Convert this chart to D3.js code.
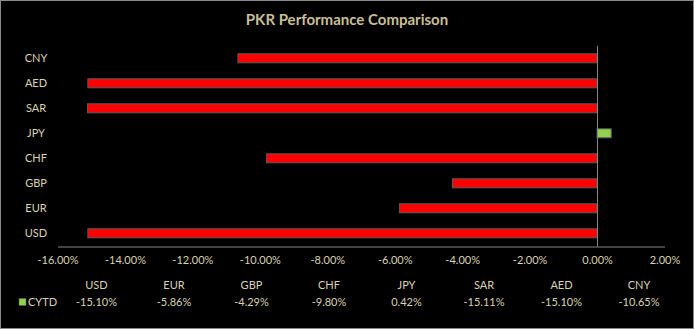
<!DOCTYPE html>
<html>
<head>
<meta charset="utf-8">
<script src="https://cdn.jsdelivr.net/npm/d3@7"></script>
<style>
  html, body { margin: 0; padding: 0; background: #000; }
  svg { display: block; }
</style>
</head>
<body>
<svg id="chart" width="694" height="329"></svg>
<script>
const title = "PKR Performance Comparison";
const categories = ["USD", "EUR", "GBP", "CHF", "JPY", "SAR", "AED", "CNY"];
const values = [-15.10, -5.86, -4.29, -9.80, 0.42, -15.11, -15.10, -10.65];
const valueLabels = ["-15.10%", "-5.86%", "-4.29%", "-9.80%", "0.42%", "-15.11%", "-15.10%", "-10.65%"];
const seriesName = "CYTD";
const tickValues = [-16, -14, -12, -10, -8, -6, -4, -2, 0, 2];

const W = 694, H = 329;
const font = "Lato, 'DejaVu Sans', sans-serif";
const labelColor = "#d8d2b4";
const titleColor = "#c8bf98";
const lineColor = "#868686";

const svg = d3.select("#chart");
svg.append("rect").attr("x", 0.5).attr("y", 0.5).attr("width", W - 1).attr("height", H - 1)
  .attr("fill", "#000").attr("stroke", "#8a8a8a").attr("stroke-width", 1);

svg.append("text").attr("x", 347).attr("y", 25).attr("text-anchor", "middle")
  .attr("font-family", font).attr("font-weight", "bold").attr("font-size", 15)
  .attr("fill", titleColor).text(title);

const x = d3.scaleLinear().domain([-16, 2]).range([57.5, 664.5]);
const y = d3.scaleBand().domain(categories.slice().reverse()).range([45.8, 245.8])
  .paddingInner(0.6).paddingOuter(0.3);

const data = categories.map((c, i) => ({ c, v: values[i] }));

// bars
svg.append("g").selectAll("rect").data(data).join("rect")
  .attr("x", d => Math.min(x(0), x(d.v)))
  .attr("y", d => y(d.c) + 0.5)
  .attr("width", d => Math.abs(x(d.v) - x(0)))
  .attr("height", y.bandwidth() - 1)
  .attr("fill", d => d.v < 0 ? "#ff0000" : "#92d050")
  .attr("stroke", "#5a5a5a").attr("stroke-width", 1);

// zero line
svg.append("line").attr("x1", Math.round(x(0)) + 0.5).attr("x2", Math.round(x(0)) + 0.5)
  .attr("y1", 45.8).attr("y2", 246.5).attr("stroke", lineColor).attr("stroke-width", 1);

// bottom axis
const xAxis = svg.append("g").attr("transform", "translate(0,246.5)")
  .call(d3.axisBottom(x).tickValues(tickValues).tickSize(0).tickPadding(10)
    .tickFormat(d => d.toFixed(2) + "%"));
xAxis.select(".domain").attr("stroke", lineColor);
xAxis.selectAll("text").attr("font-family", font).attr("font-size", 11).attr("fill", labelColor);

// left axis labels
const yAxis = svg.append("g").attr("transform", "translate(57.5,0)")
  .call(d3.axisLeft(y).tickSize(0));
yAxis.select(".domain").remove();
yAxis.selectAll("text").attr("x", -21.5).attr("text-anchor", "middle")
  .attr("font-family", font).attr("font-size", 11).attr("fill", labelColor);

// data table
const col = d3.scaleBand().domain(categories).range([57.75, 677.75]);
const table = svg.append("g");
table.selectAll("text.hdr").data(categories).join("text").attr("class", "hdr")
  .attr("x", d => col(d) + col.bandwidth() / 2).attr("y", 289)
  .attr("text-anchor", "middle").attr("font-family", font).attr("font-size", 11)
  .attr("fill", labelColor).text(d => d);
table.selectAll("text.val").data(valueLabels).join("text").attr("class", "val")
  .attr("x", (d, i) => col(categories[i]) + col.bandwidth() / 2).attr("y", 306)
  .attr("text-anchor", "middle").attr("font-family", font).attr("font-size", 11)
  .attr("fill", labelColor).text(d => d);

// legend key
table.append("rect").attr("x", 19).attr("y", 298.5).attr("width", 7).attr("height", 7)
  .attr("fill", "#92d050").attr("stroke", "#5a5a5a").attr("stroke-width", 0.5);
table.append("text").attr("x", 28).attr("y", 306).attr("font-family", font).attr("font-size", 11)
  .attr("fill", labelColor).text(seriesName);
</script>
</body>
</html>
